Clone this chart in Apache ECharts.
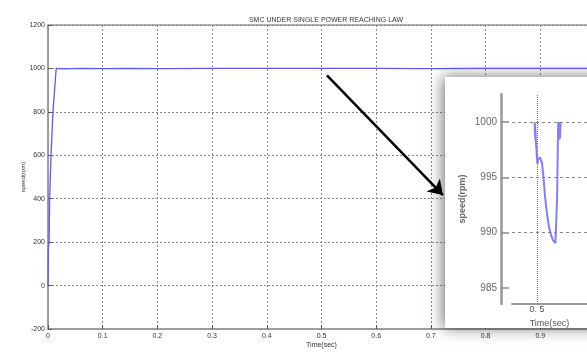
<!DOCTYPE html>
<html>
<head>
<meta charset="utf-8">
<script src="https://cdn.jsdelivr.net/npm/echarts@6/dist/echarts.min.js"></script>
<style>html,body{margin:0;padding:0;background:#fff;}#c{width:587px;height:359px;}</style>
</head>
<body>
<div id="c"></div>
<script>
// ---- main chart data ----
const mainT     = [0, 0.0003, 0.0006, 0.001, 0.002, 0.003, 0.0055, 0.009, 0.012, 0.015, 0.03, 0.06, 0.1, 0.15, 0.2, 0.3, 0.4, 0.5, 0.50005, 0.50022, 0.6, 0.7, 0.8, 0.9, 1.0];
const mainSpeed = [0, 50, 150, 180, 200, 400, 600, 800, 900, 1000, 998, 1000, 999, 1000, 999, 1000, 1000, 1000, 989, 1000, 1000, 999, 1000, 1000, 1000];
const xTickVals = [0, 0.1, 0.2, 0.3, 0.4, 0.5, 0.6, 0.7, 0.8, 0.9, 1.0];
const yTickVals = [-200, 0, 200, 400, 600, 800, 1000, 1200];
// arrow annotation (data coords)
const arrowFrom = [0.510, 968];
const arrowTo   = [0.722, 417];

// ---- inset (zoom) data ----
const insetT = [0.499977, 0.499979, 0.499981, 0.499983, 0.499985, 0.499987, 0.500004, 0.500010, 0.500030, 0.500041, 0.500050, 0.500065, 0.500081, 0.500100, 0.500120, 0.500140, 0.500160, 0.500184, 0.500192, 0.500201, 0.500212, 0.500218, 0.500224, 0.500230, 0.500236];
const insetSpeed = [1000, 998.8, 999.8, 998.4, 999.2, 998.5, 996.2, 996.6, 996.8, 996.9, 996.3, 995.0, 993.2, 991.7, 990.5, 989.8, 989.3, 989.05, 991.0, 993.2, 1000, 998.4, 1000, 998.5, 1000];
const insetYTicks = [985, 990, 995, 1000];
const insetGridY = [990, 995, 1000];
const insetXTicks = [0.5];
const insetXTickLabels = ['0. 5'];

const F = 'Liberation Sans, Arial, sans-serif';
const chart = echarts.init(document.getElementById('c'), null, {renderer: 'canvas'});

chart.setOption({
  animation: false,
  backgroundColor: '#fff',
  title: {
    text: 'SMC UNDER SINGLE POWER REACHING LAW',
    left: 321, top: 12, textAlign: 'center',
    textStyle: {fontFamily: F, fontSize: 7, fontWeight: 'normal', color: '#333'}
  },
  graphic: [{
    type: 'rect', z: 5,
    shape: {x: 445, y: 77, width: 170, height: 251},
    style: {fill: '#fff', shadowBlur: 14, shadowColor: 'rgba(0,0,0,0.55)', shadowOffsetX: -2, shadowOffsetY: 0}
  }],
  grid: [
    {left: 48, width: 547, top: 25, bottom: 30, show: true, borderColor: '#999', borderWidth: 1.5, z: 0,
     outerBoundsMode: 'none', containLabel: false},
    {left: 512, width: 75, top: 94, bottom: 55, z: 10, outerBoundsMode: 'none', containLabel: false}
  ],
  xAxis: [
    {
      gridIndex: 0, type: 'value', min: 0, max: 1, interval: 0.1, z: 1,
      name: 'Time(sec)', nameLocation: 'middle', nameGap: 13, nameMoveOverlap: false,
      nameTextStyle: {fontFamily: F, fontSize: 7, color: '#333'},
      axisLine: {show: true, onZero: false, lineStyle: {color: '#999', width: 1.5}},
      axisTick: {show: true, inside: true, length: 4, lineStyle: {color: '#555'}},
      axisLabel: {fontFamily: F, fontSize: 7, color: '#333', margin: 4,
        formatter: v => String(+v.toFixed(1))},
      splitLine: {show: true, lineStyle: {color: '#888', width: 1, type: [2, 2]}}
    },
    {
      gridIndex: 1, type: 'value', min: 0.49975, max: 0.5005, z: 12,
      name: 'Time(sec)', nameLocation: 'middle', nameGap: 4,
      nameTextStyle: {fontFamily: F, fontSize: 9, color: '#555'},
      axisLine: {show: true, onZero: false, lineStyle: {color: '#999', width: 2}},
      axisTick: {show: false},
      axisLabel: {show: true, customValues: insetXTicks, fontFamily: F, fontSize: 9, color: '#555', margin: 1,
        formatter: v => insetXTickLabels[0]},
      splitLine: {show: false}
    }
  ],
  yAxis: [
    {
      gridIndex: 0, type: 'value', min: -200, max: 1200, interval: 200, z: 1,
      name: 'speed(rpm)', nameLocation: 'middle', nameGap: 22, nameRotate: 90, nameMoveOverlap: false,
      nameTextStyle: {fontFamily: F, fontSize: 6, color: '#333'},
      axisLine: {show: true, onZero: false, lineStyle: {color: '#999', width: 1.5}},
      axisTick: {show: true, inside: true, length: 4, lineStyle: {color: '#555'}},
      axisLabel: {fontFamily: F, fontSize: 7, color: '#333', margin: 3, formatter: v => String(v)},
      splitLine: {show: true, lineStyle: {color: '#888', width: 1, type: [2, 2]}}
    },
    {
      gridIndex: 1, type: 'value', min: 983.55, max: 1002.53, offset: 11, z: 12,
      name: 'speed(rpm)', nameLocation: 'middle', nameGap: 34, nameRotate: 90,
      nameTextStyle: {fontFamily: F, fontSize: 9, fontWeight: 'bold', color: '#666'},
      axisLine: {show: true, onZero: false, lineStyle: {color: '#999', width: 2.5}},
      axisTick: {show: true, inside: true, length: 8, customValues: insetYTicks, lineStyle: {color: '#888', width: 1.5}},
      axisLabel: {show: true, customValues: insetYTicks, fontFamily: F, fontSize: 10, color: '#666', margin: 4,
        formatter: v => String(v)},
      splitLine: {show: false}
    }
  ],
  series: [
    {
      type: 'line', xAxisIndex: 0, yAxisIndex: 0, z: 2,
      data: mainT.map((t, i) => [t, mainSpeed[i]]),
      showSymbol: false, symbol: 'none',
      lineStyle: {color: '#5a5aff', width: 1.3}
    },
    {
      type: 'line', xAxisIndex: 0, yAxisIndex: 0, z: 4,
      data: [],
      markLine: {
        silent: true,
        symbol: ['none', 'arrow'], symbolSize: 14,
        label: {show: false},
        lineStyle: {color: '#000', width: 2.5, type: 'solid'},
        data: [[{coord: arrowFrom, symbol: 'none'}, {coord: arrowTo, symbol: 'arrow', symbolSize: 14}]]
      }
    },
    {
      type: 'line', xAxisIndex: 1, yAxisIndex: 1, z: 13,
      data: insetT.map((t, i) => [t, insetSpeed[i]]),
      showSymbol: false, symbol: 'none',
      lineStyle: {color: '#6a6aff', width: 2, opacity: 0.85},
      markLine: {
        silent: true, symbol: 'none', label: {show: false},
        lineStyle: {color: '#888', width: 1, type: [3, 3]},
        data: insetGridY.map(v => ({yAxis: v})).concat(insetXTicks.map(v => ({xAxis: v, lineStyle: {type: [1, 1], color: '#777'}})))
      }
    }
  ]
});
</script>
</body>
</html>
